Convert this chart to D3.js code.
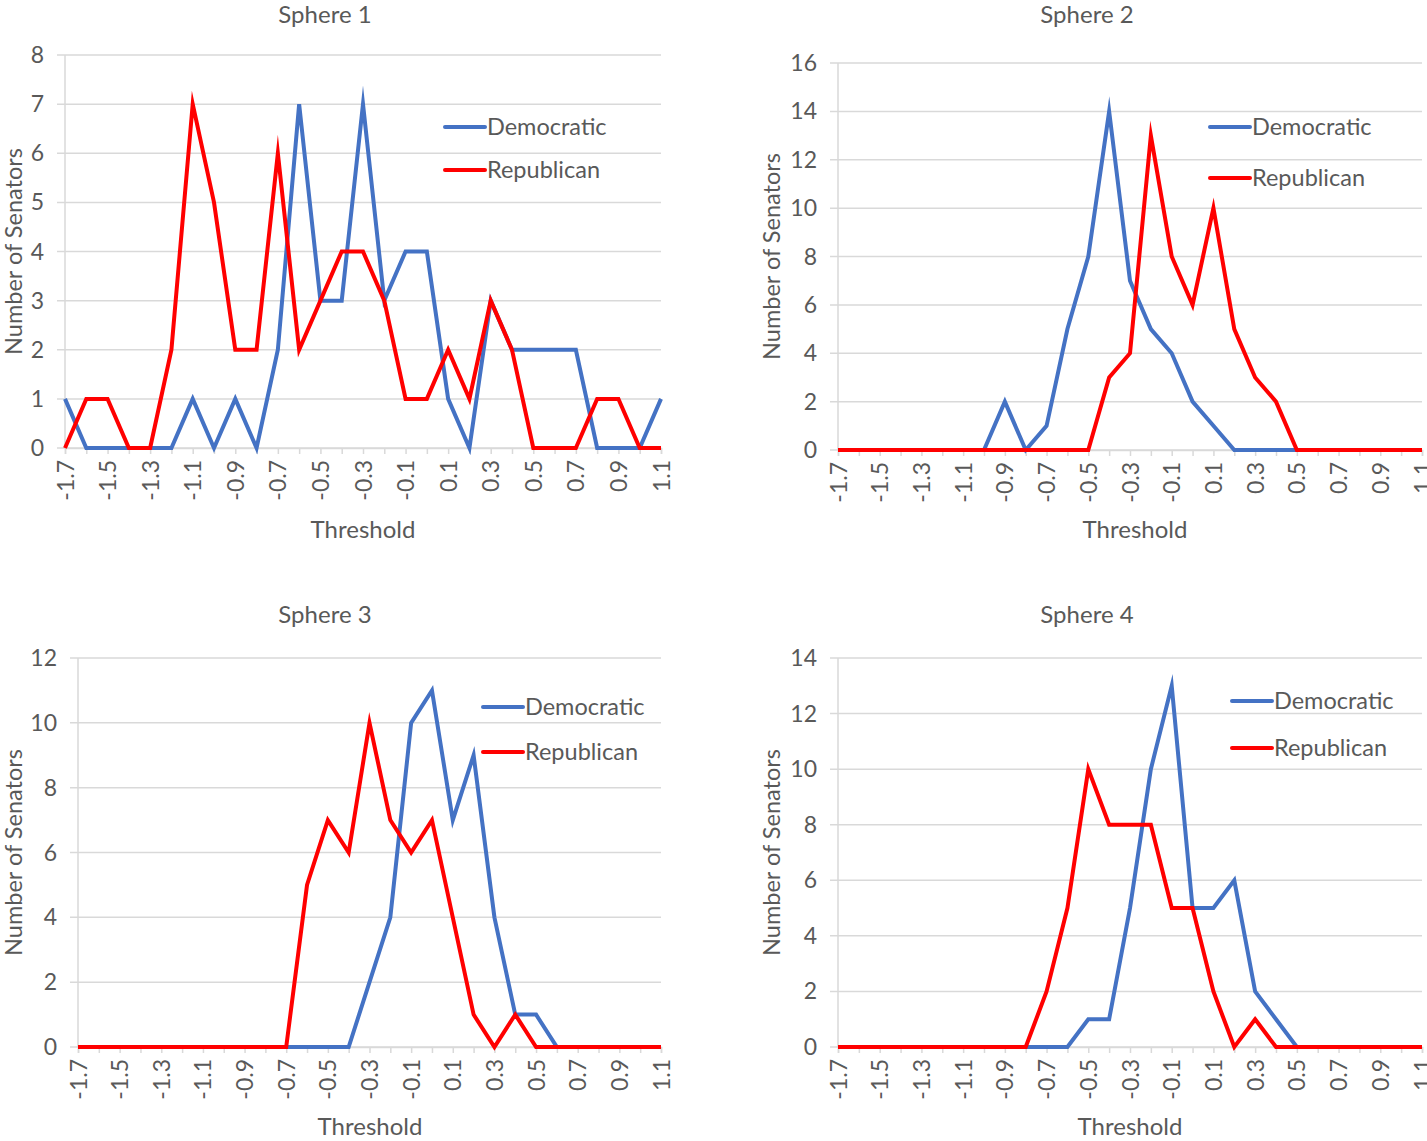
<!DOCTYPE html>
<html lang="en">
<head>
    <meta charset="UTF-8">
    <title>Spheres</title>
    <script src="https://cdn.jsdelivr.net/npm/d3@7"></script>
    <style>
        body { margin: 0; background: white; }
        text { font-family: Lato, "Open Sans", sans-serif; fill: #595959; }
    </style>
</head>
<body>
<div id="container"></div>
<script>
    // Thresholds (categories on the x axis)
    const thresholds = ["-1.7", "-1.6", "-1.5", "-1.4", "-1.3", "-1.2", "-1.1", "-1", "-0.9", "-0.8",
        "-0.7", "-0.6", "-0.5", "-0.4", "-0.3", "-0.2", "-0.1", "0", "0.1", "0.2",
        "0.3", "0.4", "0.5", "0.6", "0.7", "0.8", "0.9", "1", "1.1"];
    const seriesNames = ["Democratic", "Republican"];

    const sphere1Dem = [1, 0, 0, 0, 0, 0, 1, 0, 1, 0, 2, 7, 3, 3, 7, 3, 4, 4, 1, 0, 3, 2, 2, 2, 2, 0, 0, 0, 1];
    const sphere1Rep = [0, 1, 1, 0, 0, 2, 7, 5, 2, 2, 6, 2, 3, 4, 4, 3, 1, 1, 2, 1, 3, 2, 0, 0, 0, 1, 1, 0, 0];
    const sphere2Dem = [0, 0, 0, 0, 0, 0, 0, 0, 2, 0, 1, 5, 8, 14, 7, 5, 4, 2, 1, 0, 0, 0, 0, 0, 0, 0, 0, 0, 0];
    const sphere2Rep = [0, 0, 0, 0, 0, 0, 0, 0, 0, 0, 0, 0, 0, 3, 4, 13, 8, 6, 10, 5, 3, 2, 0, 0, 0, 0, 0, 0, 0];
    const sphere3Dem = [0, 0, 0, 0, 0, 0, 0, 0, 0, 0, 0, 0, 0, 0, 2, 4, 10, 11, 7, 9, 4, 1, 1, 0, 0, 0, 0, 0, 0];
    const sphere3Rep = [0, 0, 0, 0, 0, 0, 0, 0, 0, 0, 0, 5, 7, 6, 10, 7, 6, 7, 4, 1, 0, 1, 0, 0, 0, 0, 0, 0, 0];
    const sphere4Dem = [0, 0, 0, 0, 0, 0, 0, 0, 0, 0, 0, 0, 1, 1, 5, 10, 13, 5, 5, 6, 2, 1, 0, 0, 0, 0, 0, 0, 0];
    const sphere4Rep = [0, 0, 0, 0, 0, 0, 0, 0, 0, 0, 2, 5, 10, 8, 8, 8, 5, 5, 2, 0, 1, 0, 0, 0, 0, 0, 0, 0, 0];

    const yTicks1 = [0, 1, 2, 3, 4, 5, 6, 7, 8];
    const yTicks2 = [0, 2, 4, 6, 8, 10, 12, 14, 16];
    const yTicks3 = [0, 2, 4, 6, 8, 10, 12];
    const yTicks4 = [0, 2, 4, 6, 8, 10, 12, 14];

    const colors = ["#4472C4", "#FF0000"];

    const svg = d3.select("#container").append("svg")
        .attr("width", 1427)
        .attr("height", 1141);

    const panels = [
        {title: "Sphere 1", dem: sphere1Dem, rep: sphere1Rep, ticks: yTicks1,
            x0: 65, x1: 661, yb: 448, yt: 55, tx: 325, ty: 15, ytx: 14, xtx: 363, xty: 530, lx: 445, ly: [127, 170]},
        {title: "Sphere 2", dem: sphere2Dem, rep: sphere2Rep, ticks: yTicks2,
            x0: 838, x1: 1422, yb: 450, yt: 63, tx: 1087, ty: 15, ytx: 772, xtx: 1135, xty: 530, lx: 1210, ly: [127, 178]},
        {title: "Sphere 3", dem: sphere3Dem, rep: sphere3Rep, ticks: yTicks3,
            x0: 78, x1: 661, yb: 1047, yt: 658, tx: 325, ty: 615, ytx: 14, xtx: 370, xty: 1127, lx: 483, ly: [707, 752]},
        {title: "Sphere 4", dem: sphere4Dem, rep: sphere4Rep, ticks: yTicks4,
            x0: 838, x1: 1422, yb: 1047, yt: 658, tx: 1087, ty: 615, ytx: 772, xtx: 1130, xty: 1127, lx: 1232, ly: [701, 748]}
    ];

    panels.forEach(p => {
        const g = svg.append("g");
        const x = d3.scalePoint().domain(thresholds).range([p.x0, p.x1]);
        const y = d3.scaleLinear().domain([0, d3.max(p.ticks)]).range([p.yb, p.yt]);

        // gridlines
        g.selectAll(".grid").data(p.ticks).enter().append("line")
            .attr("x1", p.x0 - 8).attr("x2", p.x1)
            .attr("y1", d => y(d)).attr("y2", d => y(d))
            .attr("stroke", "#d9d9d9").attr("stroke-width", 1.5);

        // vertical axis line
        g.append("line")
            .attr("x1", p.x0).attr("x2", p.x0)
            .attr("y1", p.yb).attr("y2", p.yt)
            .attr("stroke", "#d9d9d9").attr("stroke-width", 1.5);

        // y tick labels
        g.selectAll(".ylab").data(p.ticks).enter().append("text")
            .attr("x", p.x0 - 21).attr("y", d => y(d))
            .attr("dy", "0.35em")
            .attr("text-anchor", "end")
            .style("font-size", "23px")
            .text(d => d);

        // x axis
        const xAxis = d3.axisBottom(x)
            .tickSize(6)
            .tickFormat((d, i) => i % 2 === 0 ? d : "");
        const ax = g.append("g")
            .attr("transform", `translate(0,${p.yb})`)
            .call(xAxis);
        ax.select(".domain").attr("stroke", "#d9d9d9").attr("stroke-width", 1.5);
        ax.selectAll(".tick line").attr("stroke", "#d9d9d9").attr("stroke-width", 1.5);
        ax.selectAll(".tick text")
            .attr("transform", "rotate(-90)")
            .attr("x", -12).attr("y", 0).attr("dy", "0.35em")
            .attr("text-anchor", "end")
            .style("font-size", "23px")
            .style("font-family", "Lato, sans-serif")
            .attr("fill", "#595959");

        // lines
        const line = d3.line()
            .x((d, i) => x(thresholds[i]))
            .y(d => y(d));
        [p.dem, p.rep].forEach((vals, k) => {
            g.append("path")
                .datum(vals)
                .attr("d", line)
                .attr("fill", "none")
                .attr("stroke", colors[k])
                .attr("stroke-width", 4)
                .attr("stroke-linejoin", "miter")
                .attr("stroke-miterlimit", 10);
        });

        // title
        g.append("text")
            .attr("x", p.tx).attr("y", p.ty)
            .attr("dy", "0.35em")
            .attr("text-anchor", "middle")
            .style("font-size", "24px")
            .text(p.title);

        // y axis title
        g.append("text")
            .attr("transform", `translate(${p.ytx},${(p.yb + p.yt) / 2}) rotate(-90)`)
            .attr("dy", "0.35em")
            .attr("text-anchor", "middle")
            .style("font-size", "23.5px")
            .text("Number of Senators");

        // x axis title
        g.append("text")
            .attr("x", p.xtx).attr("y", p.xty)
            .attr("dy", "0.35em")
            .attr("text-anchor", "middle")
            .style("font-size", "24px")
            .text("Threshold");

        // legend
        seriesNames.forEach((name, k) => {
            g.append("line")
                .attr("x1", p.lx).attr("x2", p.lx + 40)
                .attr("y1", p.ly[k]).attr("y2", p.ly[k])
                .attr("stroke", colors[k])
                .attr("stroke-width", 4)
                .attr("stroke-linecap", "round");
            g.append("text")
                .attr("x", p.lx + 42).attr("y", p.ly[k])
                .attr("dy", "0.35em")
                .style("font-size", "23.5px")
                .text(name);
        });
    });
</script>
</body>
</html>
